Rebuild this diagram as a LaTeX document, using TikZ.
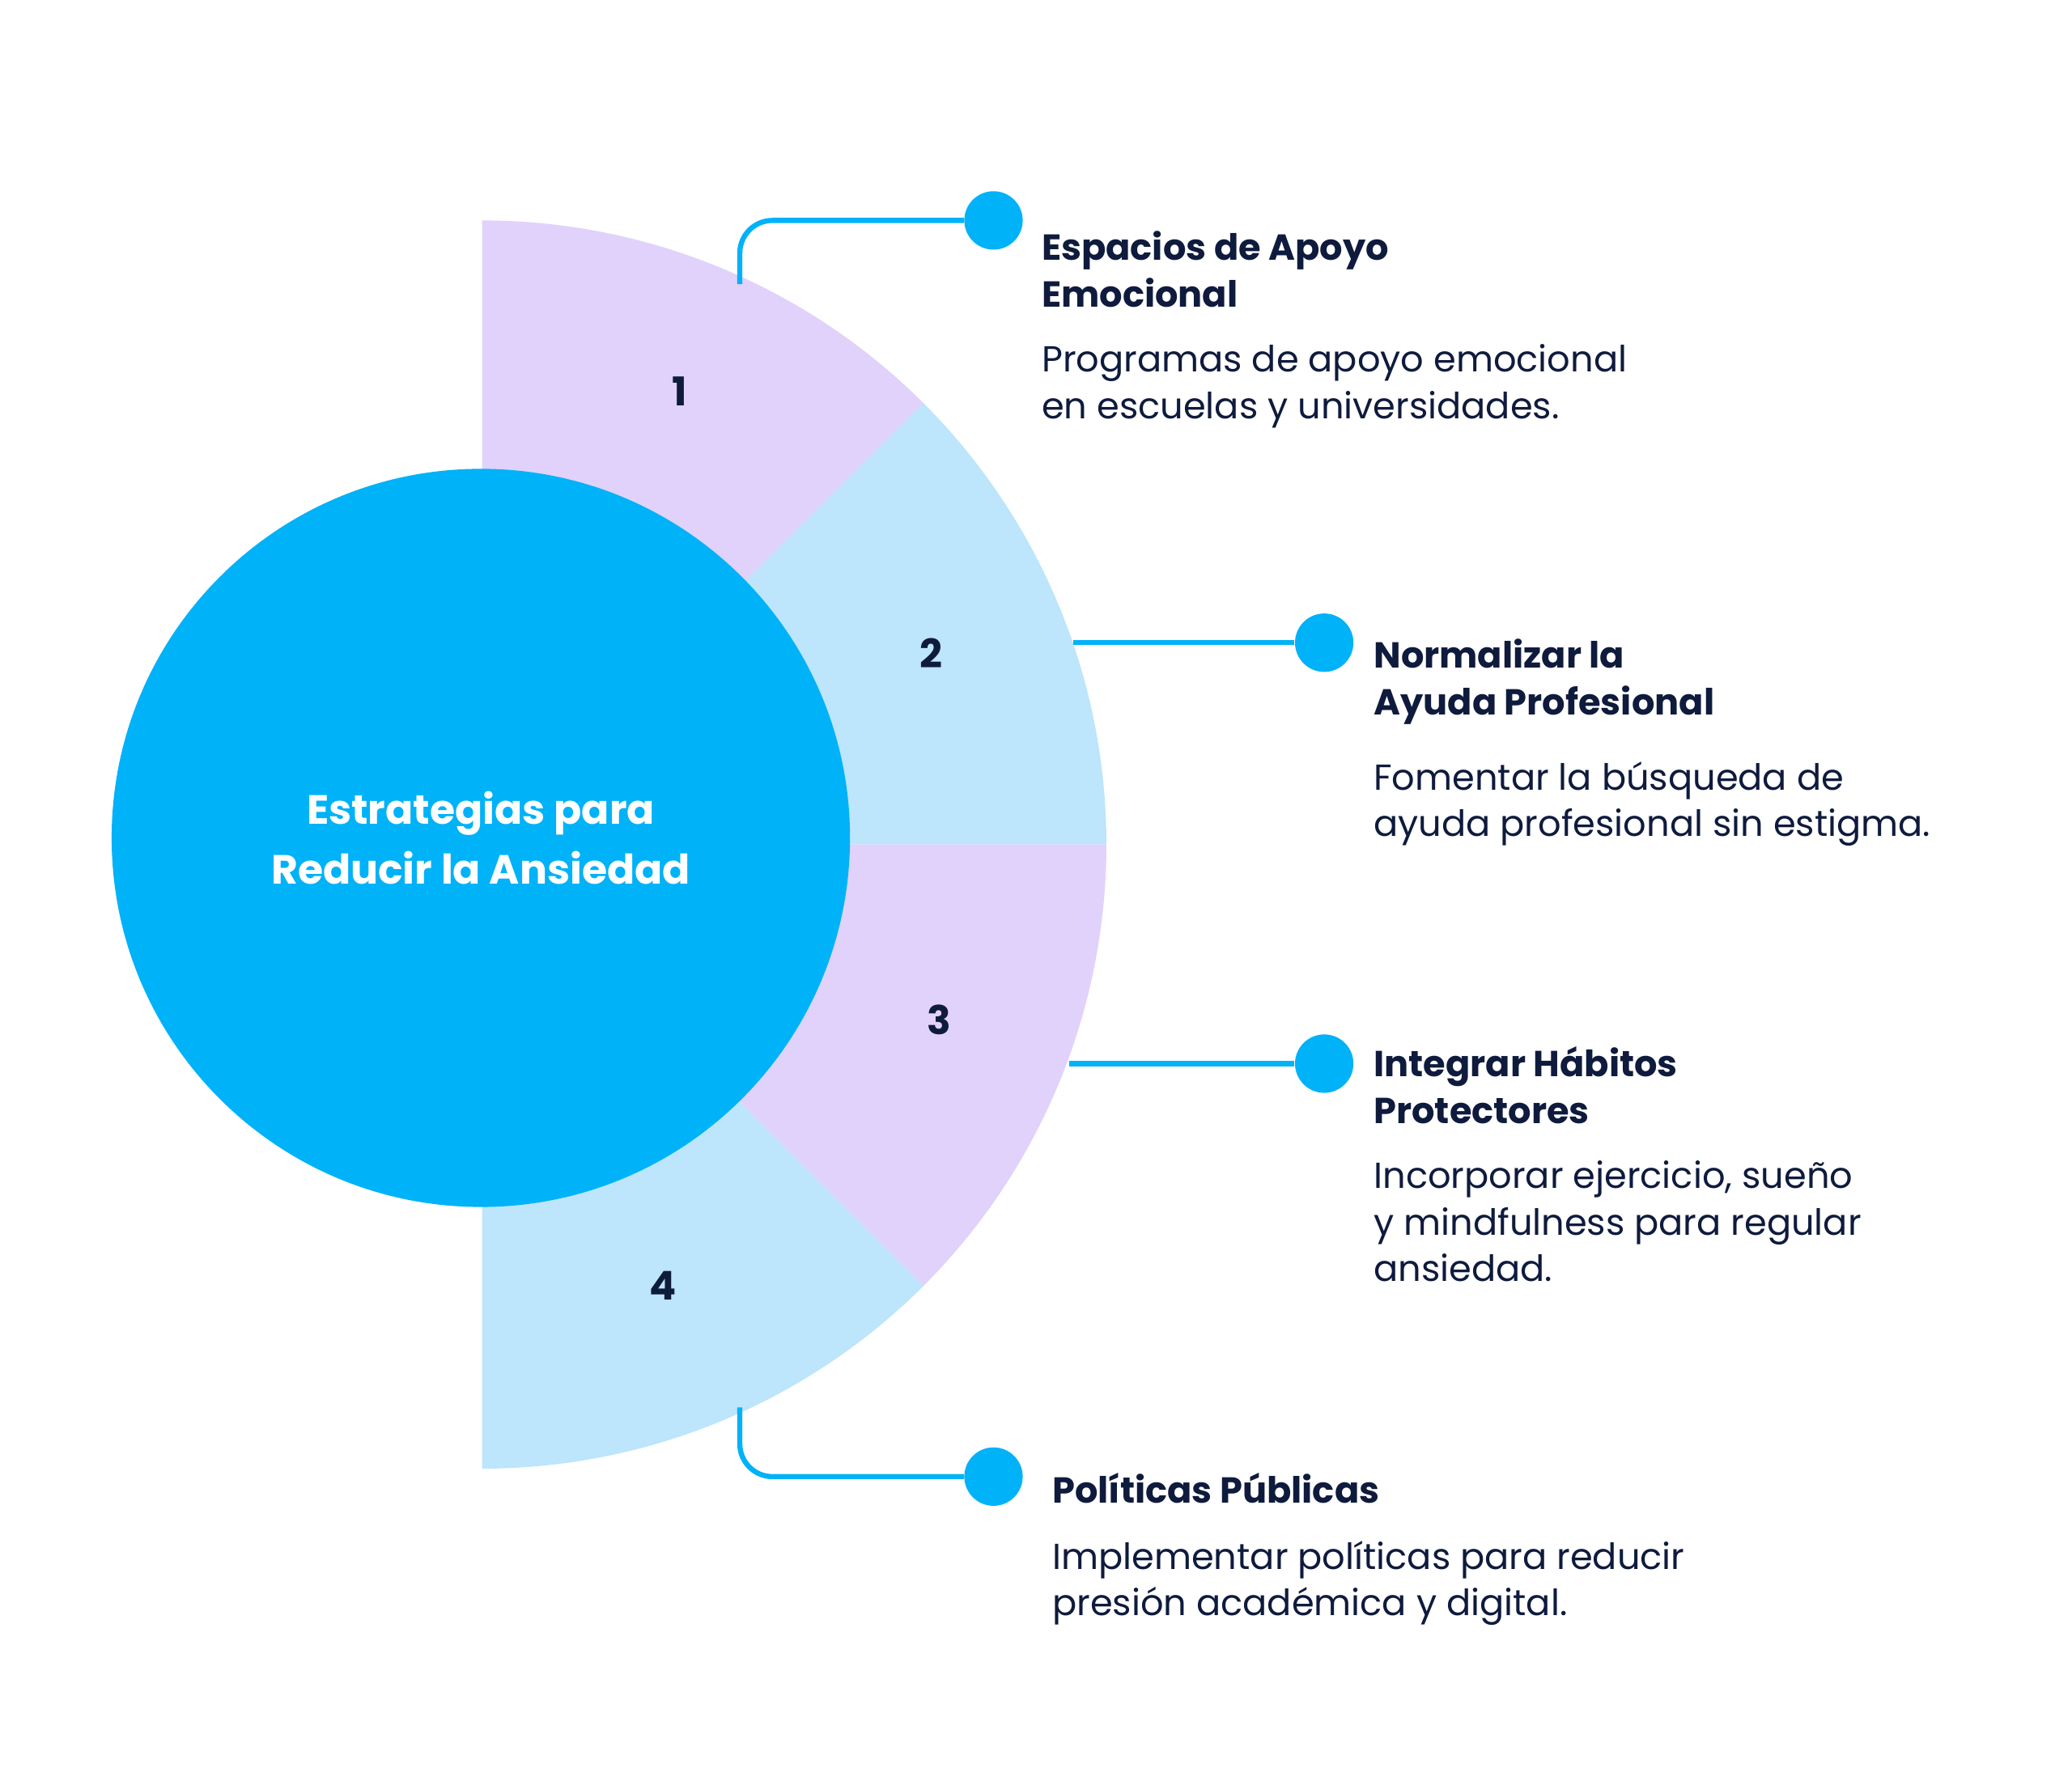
\documentclass[tikz,border=0pt]{standalone}
\usepackage{fontspec}
\setmainfont{Poppins}
\usetikzlibrary{positioning}
\definecolor{skyblue}{HTML}{00B2F8}
\definecolor{lilac}{HTML}{E1D2FC}
\definecolor{paleblue}{HTML}{BDE5FB}
\definecolor{navy}{HTML}{0F1B3D}
\tikzset{
  num/.style={font=\fontsize{17}{20}\selectfont\bfseries,text=navy},
  head/.style={anchor=north west,align=left,inner sep=0pt,text=navy,font=\fontsize{15.5}{19.9}\selectfont\bfseries},
  desc/.style={anchor=north west,align=left,inner sep=0pt,text=navy,font=\fontsize{15.5}{19.9}\selectfont},
  link/.style={draw=skyblue,line width=2.2pt,rounded corners=14},
  dot/.style={circle,fill=skyblue,minimum size=0.88cm,inner sep=0pt}
}
\begin{document}
\begin{tikzpicture}[x=0.02cm,y=-0.02cm]
\useasboundingbox (0,0) rectangle (1560,1341);
% sectors
\fill[lilac] (363,636) -- (363,166) arc[start angle=90,end angle=45,x radius=470,y radius=-470] -- cycle;
\fill[paleblue] (363,636) -- ++(45:470 and -470) arc[start angle=45,end angle=0,x radius=470,y radius=-470] -- cycle;
\fill[lilac] (363,636) -- (833,636) arc[start angle=0,end angle=-45,x radius=470,y radius=-470] -- cycle;
\fill[paleblue] (363,636) -- ++(-45:470 and -470) arc[start angle=-45,end angle=-90,x radius=470,y radius=-470] -- cycle;
\node[circle,fill=skyblue,minimum size=11.12cm,inner sep=0pt] (hub) at (362,631) {};
\node[align=center,text=white,font=\fontsize{17.5}{25.6}\selectfont\bfseries] (title) at (hub) {Estrategias para\\Reducir la Ansiedad};
% numbers
\node[num] (n1) at (512,295) {1};
\node[num] (n2) at (701,492) {2};
\node[num] (n3) at (707,768) {3};
\node[num] (n4) at (499,968) {4};
% dots
\node[dot] (d1) at (748,166) {};
\node[dot] (d2) at (997,484) {};
\node[dot] (d3) at (997,801) {};
\node[dot] (d4) at (748,1112) {};
\coordinate (s1) at (557,214);
\coordinate (s2) at (808,484);
\coordinate (s3) at (805,801);
\coordinate (s4) at (557,1060);
\draw[link] (s1) -- (s1 |- d1) -- (d1);
\draw[link] (s2) -- (d2);
\draw[link] (s3) -- (d3);
\draw[link] (s4) -- (s4 |- d4) -- (d4);
% texts
\node[head] (h1) at (784,174) {Espacios de Apoyo\\Emocional};
\node[desc,below=0.55cm of h1.south west,anchor=north west] (t1) {Programas de apoyo emocional\\en escuelas y universidades.};
\node[head] (h2) at (1034,481) {Normalizar la\\Ayuda Profesional};
\node[desc,below=0.55cm of h2.south west,anchor=north west] (t2) {Fomentar la búsqueda de\\ayuda profesional sin estigma.};
\node[head] (h3) at (1034,788) {Integrar Hábitos\\Protectores};
\node[desc,below=0.55cm of h3.south west,anchor=north west] (t3) {Incorporar ejercicio, sueño\\y mindfulness para regular\\ansiedad.};
\node[head] (h4) at (792,1109) {Políticas Públicas};
\node[desc,below=0.55cm of h4.south west,anchor=north west] (t4) {Implementar políticas para reducir\\presión académica y digital.};
\end{tikzpicture}
\end{document}
